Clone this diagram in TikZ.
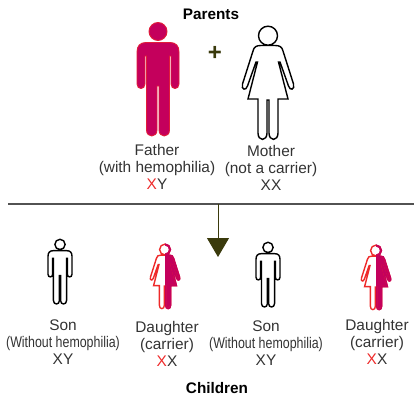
\documentclass[tikz,border=0pt]{standalone}
\usepackage{fontspec}
\setmainfont{Liberation Sans}
\newfontfamily\narrowfont[FakeStretch=0.805]{Liberation Sans}
\usetikzlibrary{arrows.meta}
\definecolor{bloodred}{HTML}{C4005C}
\definecolor{xred}{HTML}{EE2A2A}
\definecolor{olivedark}{HTML}{3A3A0C}
\definecolor{labelgray}{HTML}{333333}
\newcommand{\redx}{\textcolor{xred}{X}}
\tikzset{
    man path/.style={insert path={
        (0,9.5) circle[radius=9]
        (0,20.5) -- (12,20.5) .. controls (18,20.5) and (21,24) .. (21,30) -- (21,62)
        .. controls (21,68) and (13,68) .. (13,62) -- (13,34) -- (11.5,34) -- (11.5,108)
        .. controls (11.5,116) and (1,116) .. (1,108) -- (1,64) -- (-1,64) -- (-1,108)
        .. controls (-1,116) and (-11.5,116) .. (-11.5,108) -- (-11.5,34) -- (-13,34) -- (-13,62)
        .. controls (-13,68) and (-21,68) .. (-21,62) -- (-21,30)
        .. controls (-21,24) and (-18,20.5) .. (-12,20.5) -- cycle}},
    woman path/.style={insert path={
        (0,9.7) circle[radius=9.5]
        (0,19.5) -- (7,19.5) .. controls (12,19.5) and (14,21) .. (15,25) -- (25.5,58)
        .. controls (27,64) and (22,65) .. (20.5,60) -- (12,36) -- (10.5,36) -- (20,73) -- (10,73) -- (10,107)
        .. controls (10,115.5) and (1,115.5) .. (1,107) -- (1,74) -- (-1,74) -- (-1,107)
        .. controls (-1,115.5) and (-10,115.5) .. (-10,107) -- (-10,73) -- (-20,73) -- (-10.5,36) -- (-12,36) -- (-20.5,60)
        .. controls (-22,65) and (-27,64) .. (-25.5,58) -- (-15,25)
        .. controls (-14,21) and (-12,19.5) .. (-7,19.5) -- cycle}},
    pics/man/.style={code={\path[#1, man path];}},
    pics/woman/.style={code={\path[#1, woman path];}},
    pics/carrier/.style={code={
        \path[fill=white, woman path];
        \begin{scope}
            \clip (0,-2) rectangle (32,120);
            \path[fill=bloodred, woman path];
        \end{scope}
        \path[draw=xred, line width=1.4pt, woman path];
        \begin{scope}
            \clip (0,-2) rectangle (32,120);
            \path[draw=bloodred, line width=1.4pt, woman path];
            \fill[white] (0,9.7) circle[radius=6.5];
        \end{scope}}},
    caption/.style={text=labelgray, align=center, font=\fontsize{15.4}{17}\selectfont},
    heading/.style={text=black, inner sep=0pt, font=\fontsize{15.3}{17}\selectfont\bfseries},
    healthy/.style={draw=black, fill=white, line width=1.4pt},
}
\begin{document}
\begin{tikzpicture}[x=1pt,y=-1pt]
    \useasboundingbox (0,0) rectangle (414,395);

    \node at (211,14) (parents) [heading] {Parents};
    \pic (father) at (158,22) {man={draw=xred!70!bloodred, fill=bloodred, line width=0.9pt}};
    \node at (215,53) (plus) [text=olivedark, font=\fontsize{24}{24}\selectfont\bfseries] {+};
    \pic (mother) at (268,26) {woman={draw=black, fill=white, line width=1.4pt}};
    \node at (157,167) (fatherlabel) [caption] {Father\\(with hemophilia)\\\redx Y};
    \node at (271,168) (motherlabel) [caption] {Mother\\(not a carrier)\\XX};

    % the rule and the arrow down to the children
    \coordinate (ruleleft) at (8,204);
    \coordinate (ruleright) at (414,204);
    \coordinate (rulemid) at (218,204);
    \coordinate (arrowtip) at (218,257);
    \draw[draw=labelgray!85, line width=1.6pt] (ruleleft) -- (rulemid) -- (ruleright);
    \draw[-{Triangle[width=22pt,length=19pt,fill=olivedark]}, draw=olivedark, line width=1pt] (rulemid) -- (arrowtip);

    \pic[scale=0.57] (sonA) at (60,239) {man=healthy};
    \pic[scale=0.57] (daughterA) at (165,244) {carrier};
    \pic[scale=0.57] (sonB) at (268,242) {man=healthy};
    \pic[scale=0.57] (daughterB) at (376,245) {carrier};

    \node at (63,342) (sonAlabel) [caption] {Son\\{\narrowfont (Without hemophilia)}\\XY};
    \node at (167,344) (daughterAlabel) [caption] {Daughter\\(carrier)\\\redx X};
    \node at (266,343) (sonBlabel) [caption] {Son\\{\narrowfont (Without hemophilia)}\\XY};
    \node at (377,342) (daughterBlabel) [caption] {Daughter\\(carrier)\\\redx X};

    \node at (217,388) (children) [heading] {Children};
\end{tikzpicture}
\end{document}
